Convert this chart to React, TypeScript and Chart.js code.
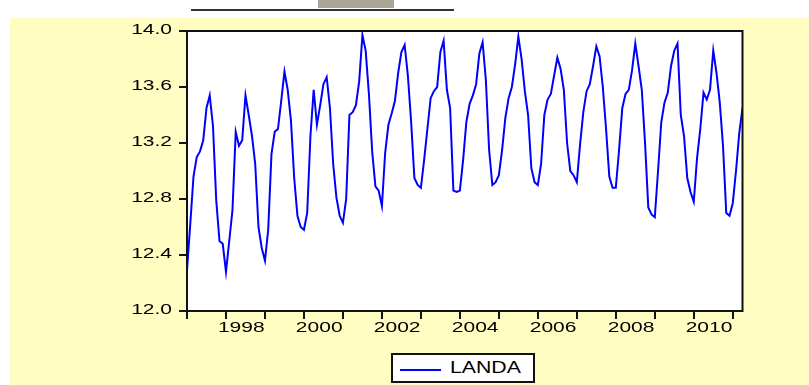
import { useEffect, useRef } from "react";
import { Chart, registerables } from "chart.js";

Chart.register(...registerables);

// Monthly series LANDA, starting January 1997
const START_YEAR = 1997;
const landa1997 = [12.29, 12.62, 12.96, 13.10, 13.14, 13.22, 13.45, 13.54, 13.32, 12.79, 12.50, 12.48];
const landa1998 = [12.28, 12.50, 12.72, 13.28, 13.18, 13.22, 13.54, 13.40, 13.25, 13.05, 12.60, 12.45];
const landa1999 = [12.36, 12.58, 13.12, 13.28, 13.30, 13.50, 13.71, 13.58, 13.36, 12.95, 12.68, 12.60];
const landa2000 = [12.58, 12.70, 13.25, 13.58, 13.33, 13.47, 13.62, 13.67, 13.45, 13.05, 12.81, 12.68];
const landa2001 = [12.63, 12.80, 13.40, 13.42, 13.47, 13.64, 13.97, 13.86, 13.55, 13.14, 12.89, 12.86];
const landa2002 = [12.75, 13.13, 13.33, 13.41, 13.50, 13.70, 13.85, 13.90, 13.68, 13.35, 12.95, 12.90];
const landa2003 = [12.88, 13.08, 13.30, 13.52, 13.57, 13.60, 13.85, 13.93, 13.58, 13.45, 12.86, 12.85];
const landa2004 = [12.86, 13.08, 13.35, 13.48, 13.54, 13.62, 13.84, 13.92, 13.65, 13.15, 12.90, 12.92];
const landa2005 = [12.97, 13.15, 13.38, 13.52, 13.60, 13.76, 13.96, 13.80, 13.57, 13.40, 13.02, 12.92];
const landa2006 = [12.90, 13.05, 13.40, 13.51, 13.55, 13.68, 13.81, 13.73, 13.58, 13.20, 13.00, 12.97];
const landa2007 = [12.92, 13.19, 13.42, 13.57, 13.62, 13.75, 13.89, 13.82, 13.60, 13.30, 12.96, 12.88];
const landa2008 = [12.88, 13.15, 13.45, 13.55, 13.58, 13.72, 13.91, 13.75, 13.58, 13.20, 12.74, 12.69];
const landa2009 = [12.67, 13.00, 13.35, 13.49, 13.56, 13.75, 13.86, 13.91, 13.40, 13.25, 12.95, 12.85];
const landa2010 = [12.78, 13.09, 13.30, 13.56, 13.51, 13.58, 13.86, 13.70, 13.49, 13.18, 12.70, 12.68];
const landa2011 = [12.77, 13.00, 13.27, 13.45];

const LANDA = [
  ...landa1997, ...landa1998, ...landa1999, ...landa2000, ...landa2001,
  ...landa2002, ...landa2003, ...landa2004, ...landa2005, ...landa2006,
  ...landa2007, ...landa2008, ...landa2009, ...landa2010, ...landa2011,
];

const Y_TICKS = [12.0, 12.4, 12.8, 13.2, 13.6, 14.0];
const Y_TICK_LABELS = ["12.0", "12.4", "12.8", "13.2", "13.6", "14.0"];
const X_TICK_YEARS = [1997, 1998, 1999, 2000, 2001, 2002, 2003, 2004, 2005, 2006, 2007, 2008, 2009, 2010, 2011];
const X_LABEL_YEARS = ["1998", "2000", "2002", "2004", "2006", "2008", "2010"];
const SERIES_NAME = "LANDA";

const FONT = '"Liberation Sans", Arial, sans-serif';

const framePlugin = {
  id: "frameAndLabels",
  beforeDraw(chart: any) {
    const { ctx, chartArea } = chart;
    ctx.save();
    ctx.fillStyle = "#ffffff";
    ctx.fillRect(chartArea.left, chartArea.top, chartArea.right - chartArea.left, chartArea.bottom - chartArea.top);
    ctx.restore();
  },
  afterDraw(chart: any) {
    const { ctx, chartArea } = chart;
    const { left, top, right, bottom } = chartArea;
    ctx.save();
    ctx.strokeStyle = "#111111";
    ctx.lineWidth = 2;
    ctx.strokeRect(left, top, right - left, bottom - top);

    ctx.fillStyle = "#000000";
    ctx.font = `14px ${FONT}`;
    const ys = chart.scales.y;
    Y_TICKS.forEach((v, i) => {
      const py = ys.getPixelForValue(v);
      ctx.save();
      ctx.translate(left - 15, py - 1);
      ctx.scale(1.5, 1);
      ctx.textAlign = "right";
      ctx.textBaseline = "middle";
      ctx.fillText(Y_TICK_LABELS[i], 0, 0);
      ctx.restore();
    });
    const xs = chart.scales.x;
    X_LABEL_YEARS.forEach((lbl) => {
      const m = (Number(lbl) - START_YEAR) * 12 + 4.7;
      const px = xs.getPixelForValue(m);
      ctx.save();
      ctx.translate(px, bottom + 10);
      ctx.scale(1.5, 1);
      ctx.textAlign = "center";
      ctx.textBaseline = "top";
      ctx.fillText(lbl, 0, 0);
      ctx.restore();
    });
    ctx.restore();
  },
};

export default function App() {
  const ref = useRef<HTMLCanvasElement | null>(null);

  useEffect(() => {
    if (!ref.current) return;
    const points = LANDA.map((v, i) => ({ x: i, y: v }));
    const chart = new Chart(ref.current, {
      type: "line",
      data: {
        datasets: [
          {
            label: SERIES_NAME,
            data: points,
            borderColor: "#0000ff",
            borderWidth: 2,
            pointRadius: 0,
            tension: 0,
            fill: false,
          },
        ],
      },
      options: {
        animation: false,
        responsive: false,
        maintainAspectRatio: false,
        devicePixelRatio: 1,
        layout: { padding: { top: 31, right: 66.5, left: 0, bottom: 0 } },
        plugins: { legend: { display: false }, tooltip: { enabled: false } },
        scales: {
          x: {
            type: "linear",
            min: 0,
            max: LANDA.length - 1,
            border: { display: false },
            grid: {
              display: true,
              drawOnChartArea: false,
              drawTicks: true,
              tickLength: 8,
              color: "#111111",
              lineWidth: 2,
            },
            ticks: { display: false },
            afterBuildTicks: (s: any) => {
              s.ticks = X_TICK_YEARS.map((y) => ({ value: (y - START_YEAR) * 12 }));
            },
            afterFit: (s: any) => {
              s.height = 74;
            },
          },
          y: {
            type: "linear",
            min: 12.0,
            max: 14.0,
            border: { display: false },
            grid: {
              display: true,
              drawOnChartArea: false,
              drawTicks: true,
              tickLength: 8,
              color: "#111111",
              lineWidth: 2,
            },
            ticks: { display: false },
            afterBuildTicks: (s: any) => {
              s.ticks = Y_TICKS.map((v) => ({ value: v }));
            },
            afterFit: (s: any) => {
              s.width = 187;
            },
          },
        },
      },
      plugins: [framePlugin],
    });
    return () => chart.destroy();
  }, []);

  return (
    <div style={{ position: "fixed", left: 0, top: 0, width: 809, height: 385, background: "#ffffff", overflow: "hidden" }}>
      <div style={{ position: "absolute", left: 10, top: 18, right: 0, bottom: 0, background: "#fffdc2" }} />
      <div style={{ position: "absolute", left: 191, top: 9, width: 263, height: 2, background: "#333333" }} />
      <div style={{ position: "absolute", left: 318, top: 0, width: 76, height: 8, background: "#a9a696" }} />
      <canvas ref={ref} width={809} height={385} style={{ position: "absolute", left: 0, top: 0, width: 809, height: 385 }} />
      <div
        style={{
          position: "absolute",
          left: 391,
          top: 353,
          width: 144,
          height: 30,
          boxSizing: "border-box",
          border: "2px solid #111111",
          background: "#ffffff",
        }}
      >
        <div style={{ position: "absolute", left: 7, top: 14, width: 41, height: 2, background: "#0000ff" }} />
        <div
          style={{
            position: "absolute",
            left: 57,
            top: 3,
            fontFamily: FONT,
            fontSize: 17,
            lineHeight: "20px",
            color: "#000",
            transform: "scaleX(1.25)",
            transformOrigin: "left center",
            whiteSpace: "nowrap",
          }}
        >
          {SERIES_NAME}
        </div>
      </div>
    </div>
  );
}
